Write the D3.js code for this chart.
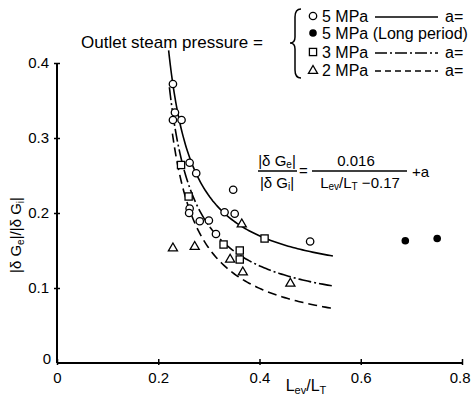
<!DOCTYPE html>
<html>
<head>
<meta charset="utf-8">
<script src="https://cdn.jsdelivr.net/npm/d3@7"></script>
<style>
  html, body { margin: 0; padding: 0; background: #fff; overflow: hidden; }
  svg { display: block; font-family: "Liberation Sans", Arial, sans-serif; }
</style>
</head>
<body>
<svg id="chart" width="471" height="403"></svg>
<script>
// 数据
const xTicks = [0, 0.2, 0.4, 0.6, 0.8];
const yTicks = [0.1, 0.2, 0.3, 0.4];

// 5 MPa, open circles
const circles5 = [
  [0.229, 0.372], [0.233, 0.334], [0.229, 0.324], [0.246, 0.324],
  [0.262, 0.267], [0.275, 0.253], [0.348, 0.231], [0.262, 0.206],
  [0.261, 0.200], [0.282, 0.189], [0.300, 0.190], [0.314, 0.172],
  [0.331, 0.201], [0.351, 0.199], [0.500, 0.162]
];
// 5 MPa long period, filled dots
const dots5Long = [[0.688, 0.163], [0.751, 0.166]];
// 3 MPa, squares
const squares3 = [
  [0.245, 0.264], [0.260, 0.222], [0.329, 0.158],
  [0.361, 0.150], [0.361, 0.138], [0.410, 0.166]
];
// 2 MPa, triangles
const triangles2 = [
  [0.229, 0.154], [0.272, 0.156], [0.365, 0.186],
  [0.342, 0.139], [0.367, 0.122], [0.461, 0.107]
];

// fitted curves |δGe|/|δGi| = 0.016/(Lev/LT - 0.17) + a
const curveCoef = 0.016;
const curveShift = 0.17;
const curveA = [0.10, 0.06, 0.03];
const curveStart = [0.2205, 0.222, 0.228];
const curveEnd = 0.545;
const curveDash = [null, "13,3,2,3", "9,5"];

const legendRows = [
  { sym: "circle", label: "5 MPa", dash: null, a: "a=" },
  { sym: "dot", label: "5 MPa (Long period)", dash: undefined, a: null },
  { sym: "square", label: "3 MPa", dash: "12,3,2,3", a: "a=" },
  { sym: "triangle", label: "2 MPa", dash: "6,4", a: "a=" }
];

const svg = d3.select("#chart");
const x = d3.scaleLinear().domain([0, 0.8]).range([57, 462]);
const y = d3.scaleLinear().domain([0, 0.4]).range([363, 63]);

// 坐标轴
const xAxis = svg.append("g")
  .attr("transform", `translate(0,${y(0)})`)
  .call(d3.axisBottom(x).tickValues(xTicks).tickSize(-4).tickPadding(9)
    .tickFormat(d => d === 0 ? "0" : d.toFixed(1)));
xAxis.select(".domain").attr("stroke-width", 2).attr("d", `M${x(0)},0H${x(0.8)}`);
xAxis.selectAll(".tick line").attr("y2", -4).attr("y1", 2).attr("stroke-width", 1.5);
xAxis.selectAll(".tick text").attr("font-size", 15).attr("font-family", "Liberation Sans, Arial, sans-serif").attr("fill", "#000");
// 最右边的标签贴着画布边缘
xAxis.selectAll(".tick text").filter(d => d === 0.8)
  .attr("text-anchor", "end").attr("x", 470 - x(0.8));

const yAxis = svg.append("g")
  .attr("transform", `translate(${x(0)},0)`)
  .call(d3.axisLeft(y).tickValues(yTicks).tickSize(3).tickPadding(5)
    .tickFormat(d => d.toFixed(1)));
yAxis.select(".domain").attr("stroke-width", 2).attr("d", `M0,${y(0)}V${y(0.4)}`);
yAxis.selectAll(".tick line").attr("x1", 3).attr("x2", -3).attr("stroke-width", 1.5);
yAxis.selectAll(".tick text").attr("font-size", 15).attr("font-family", "Liberation Sans, Arial, sans-serif").attr("fill", "#000");

// 原点的 y 标签 "0"
svg.append("text")
  .attr("x", x(0) - 6).attr("y", y(0) + 1)
  .attr("text-anchor", "end").attr("font-size", 15)
  .text("0");

// 曲线
const line = d3.line().x(d => x(d[0])).y(d => y(d[1]));
curveA.forEach((a, i) => {
  const pts = d3.range(0, 101).map(k => {
    const xv = curveStart[i] + (curveEnd - curveStart[i]) * Math.pow(k / 100, 1.6);
    return [xv, curveCoef / (xv - curveShift) + a];
  });
  svg.append("path")
    .attr("d", line(pts))
    .attr("fill", "none")
    .attr("stroke", "#000")
    .attr("stroke-width", 1.6)
    .attr("stroke-dasharray", curveDash[i]);
});

// 符号
function drawSymbol(g, type, cx, cy) {
  if (type === "circle") {
    g.append("circle").attr("cx", cx).attr("cy", cy).attr("r", 3.7)
      .attr("fill", "#fff").attr("stroke", "#000").attr("stroke-width", 1.3);
  } else if (type === "dot") {
    g.append("circle").attr("cx", cx).attr("cy", cy).attr("r", 3.8).attr("fill", "#000");
  } else if (type === "square") {
    g.append("rect").attr("x", cx - 3.6).attr("y", cy - 3.6).attr("width", 7.2).attr("height", 7.2)
      .attr("fill", "#fff").attr("stroke", "#000").attr("stroke-width", 1.3);
  } else {
    g.append("path")
      .attr("d", d3.symbol().type(d3.symbolTriangle).size(36)())
      .attr("transform", `translate(${cx},${cy + 0.8})`)
      .attr("fill", "#fff").attr("stroke", "#000").attr("stroke-width", 1.3);
  }
}

const marks = svg.append("g");
circles5.forEach(d => drawSymbol(marks, "circle", x(d[0]), y(d[1])));
dots5Long.forEach(d => drawSymbol(marks, "dot", x(d[0]), y(d[1])));
squares3.forEach(d => drawSymbol(marks, "square", x(d[0]), y(d[1])));
triangles2.forEach(d => drawSymbol(marks, "triangle", x(d[0]), y(d[1])));

// 轴标题
const xl = svg.append("text").attr("x", 306).attr("y", 391)
  .attr("text-anchor", "middle").attr("font-size", 16);
xl.append("tspan").text("L");
xl.append("tspan").attr("font-size", 11).attr("dy", 3).text("ev");
xl.append("tspan").attr("dy", -3).text("/L");
xl.append("tspan").attr("font-size", 11).attr("dy", 3).text("T");

const yl = svg.append("text")
  .attr("transform", "translate(21,235) rotate(-90)")
  .attr("text-anchor", "middle").attr("font-size", 15);
yl.append("tspan").text("|δ G");
yl.append("tspan").attr("font-size", 10).attr("dy", 3).text("e");
yl.append("tspan").attr("dy", -3).text("|/|δ G");
yl.append("tspan").attr("font-size", 10).attr("dy", 3).text("i");
yl.append("tspan").attr("dy", -3).text("|");

// 公式标注
const eq = svg.append("g").attr("font-size", 15);
const n1 = eq.append("text").attr("x", 277).attr("y", 166).attr("text-anchor", "middle");
n1.append("tspan").text("|δ G");
n1.append("tspan").attr("font-size", 10).attr("dy", 2).text("e");
n1.append("tspan").attr("dy", -2).text("|");
eq.append("line").attr("x1", 258).attr("x2", 297).attr("y1", 171).attr("y2", 171)
  .attr("stroke", "#000").attr("stroke-width", 1.3);
const d1 = eq.append("text").attr("x", 277).attr("y", 188).attr("text-anchor", "middle");
d1.append("tspan").text("|δ G");
d1.append("tspan").attr("font-size", 10).attr("dy", 2).text("i");
d1.append("tspan").attr("dy", -2).text("|");
eq.append("text").attr("x", 299).attr("y", 176).text("=");
eq.append("text").attr("x", 356).attr("y", 166).attr("text-anchor", "middle").text("0.016");
eq.append("line").attr("x1", 312).attr("x2", 407).attr("y1", 171).attr("y2", 171)
  .attr("stroke", "#000").attr("stroke-width", 1.3);
const d2 = eq.append("text").attr("x", 360).attr("y", 188).attr("text-anchor", "middle");
d2.append("tspan").text("L");
d2.append("tspan").attr("font-size", 10).attr("dy", 2).text("ev");
d2.append("tspan").attr("dy", -2).text("/L");
d2.append("tspan").attr("font-size", 10).attr("dy", 2).text("T");
d2.append("tspan").attr("dy", -2).text(" −0.17");
eq.append("text").attr("x", 412).attr("y", 177).text("+a");

// 图例
const lg = svg.append("g").attr("font-size", 16);
lg.append("text").attr("x", 81).attr("y", 48).attr("font-size", 17).text("Outlet steam pressure =");
lg.append("path")
  .attr("d", "M301,9 Q295,9 295,17 L295,37 Q295,43 290,43 Q295,43 295,49 L295,70 Q295,78 301,78")
  .attr("fill", "none").attr("stroke", "#000").attr("stroke-width", 1.5);
const rowY = [16, 33, 52, 70];
legendRows.forEach((r, i) => {
  const cy = rowY[i];
  drawSymbol(lg, r.sym, 313, cy);
  lg.append("text").attr("x", 322).attr("y", cy + 6).text(r.label);
  if (r.a) {
    lg.append("line").attr("x1", 375).attr("x2", 438).attr("y1", cy + 1).attr("y2", cy + 1)
      .attr("stroke", "#000").attr("stroke-width", 1.5)
      .attr("stroke-dasharray", r.dash);
    lg.append("text").attr("x", 445).attr("y", cy + 6).text(r.a);
  }
});
</script>
</body>
</html>
